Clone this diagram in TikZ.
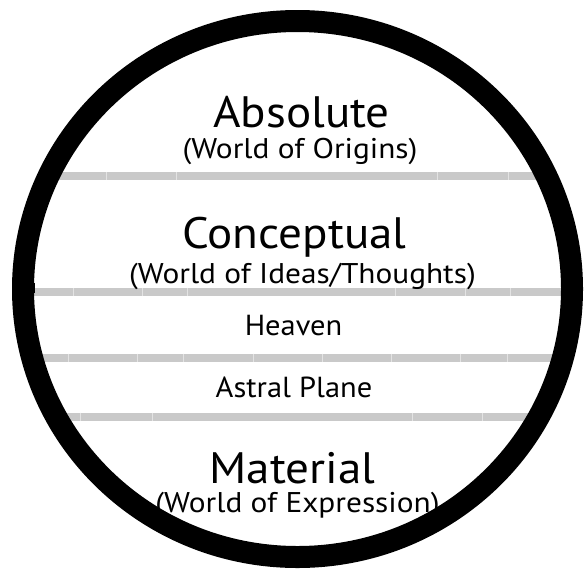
\documentclass[tikz,border=0pt]{standalone}
\usepackage{fontspec}
\setmainfont{PT Sans}
\newcommand{\wide}[2]{\scalebox{#1}[1]{#2}}
\begin{document}
\begin{tikzpicture}[x=1pt,y=-1pt,
  band/.style={line width=8pt,draw=black!21},
  seam/.style={line width=0.8pt,draw=black!11},
  title/.style={anchor=base,inner sep=0pt,font=\fontsize{44}{44}\selectfont},
  sub/.style={anchor=base,inner sep=0pt,font=\fontsize{28.5}{28.5}\selectfont},
  mid/.style={anchor=base,inner sep=0pt,font=\fontsize{29}{29}\selectfont}]
\useasboundingbox[fill=white] (0,0) rectangle (585,573);
\coordinate (c) at (297.5,289);
\begin{scope}
  \clip (c) ellipse [x radius=280, y radius=274];
  \foreach \y in {176,292,357.5,416.5}
    \draw[band] (0,\y) -- (585,\y);
  \foreach \x in {106,176,437,508} \draw[seam] (\x,172) -- (\x,180);
  \foreach \x in {73,142,187,395,465,510} \draw[seam] (\x,288) -- (\x,296);
  \foreach \x in {68,137,183,253,322,391,460,507} \draw[seam] (\x,353.5) -- (\x,361.5);
  \foreach \x in {80,152,412,482} \draw[seam] (\x,412.5) -- (\x,420.5);
\end{scope}
\draw[line width=22pt] (c) ellipse [x radius=274.5, y radius=268];
\fill (29,283) rectangle (35,293);
\node[title] (abs) at (301.5,127) {\wide{1.07}{Absolute}};
\node[sub] (abssub) at (300,158) {\wide{1.1}{(World of Origins)}};
\node[title] (con) at (294.5,248) {\wide{1.07}{Conceptual}};
\node[sub] (consub) at (302.5,283) {\wide{1.1}{(World of Ideas/Thoughts)}};
\node[mid] (hea) at (293.5,335) {\wide{1.05}{Heaven}};
\node[mid] (ast) at (294,397) {\wide{1.05}{Astral Plane}};
\node[title] (mat) at (292.5,483) {\wide{1.07}{Material}};
\node[sub] (matsub) at (297.5,512) {\wide{1.1}{(World of Expression)}};
\end{tikzpicture}
\end{document}
